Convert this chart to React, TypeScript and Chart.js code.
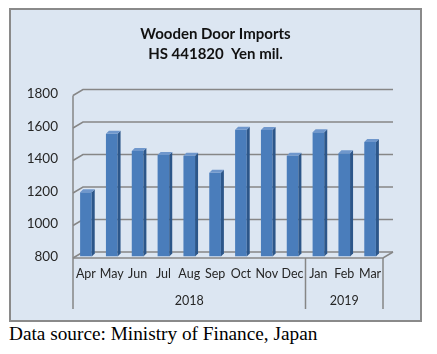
import React, { useEffect, useRef } from "react";
import { Chart, registerables } from "chart.js";

Chart.register(...registerables);

const titleLines = ["Wooden Door Imports", "HS 441820  Yen mil."];
const months = ["Apr", "May", "Jun", "Jul", "Aug", "Sep", "Oct", "Nov", "Dec", "Jan", "Feb", "Mar"];
const imports = [1195, 1555, 1450, 1425, 1420, 1315, 1580, 1578, 1420, 1565, 1435, 1505];
const yearLabels = ["2018", "2019"];
const yearSpans = [9, 3];
const yMin = 800;
const yMax = 1800;
const yStep = 200;
const sourceNote = "Data source: Ministry of Finance, Japan";

const DX = 10; // back wall depth offset x
const DY = 6; // back wall depth offset y
const FRONT = 1.5; // front plane below bar plane
const BD = 3; // bar depth
const AXIS_BOTTOM = 299;
const YEAR_Y = 291;
const LINE = "#868686";
const FONT = "Lato, 'Open Sans', sans-serif";

const depthPlugin = {
  id: "depth3d",
  beforeDatasetsDraw(chart: any) {
    const { ctx, chartArea, scales } = chart;
    const y = scales.y;
    ctx.save();
    ctx.strokeStyle = LINE;
    ctx.lineWidth = 1.5;
    for (let v = yMin; v <= yMax; v += yStep) {
      const yf = y.getPixelForValue(v) + FRONT;
      const yb = yf - DY;
      ctx.beginPath();
      ctx.moveTo(chartArea.left, yf);
      ctx.lineTo(chartArea.left + DX, yb);
      ctx.lineTo(chartArea.right + DX, yb);
      ctx.stroke();
    }
    const y0 = y.getPixelForValue(yMin) + FRONT;
    ctx.beginPath();
    ctx.moveTo(chartArea.left, y0);
    ctx.lineTo(chartArea.right, y0);
    ctx.lineTo(chartArea.right + DX, y0 - DY);
    ctx.stroke();
    ctx.restore();
  },
  afterDatasetsDraw(chart: any) {
    const { ctx, scales } = chart;
    const meta = chart.getDatasetMeta(0);
    const floor = scales.y.getPixelForValue(yMin);
    ctx.save();
    meta.data.forEach((bar: any) => {
      const { x, y, base, width } = bar.getProps(["x", "y", "base", "width"], true);
      const b = Math.min(base, floor);
      const l = x - width / 2;
      const r = x + width / 2;
      ctx.fillStyle = "#2c5689";
      ctx.beginPath();
      ctx.moveTo(r, y);
      ctx.lineTo(r + BD, y - BD);
      ctx.lineTo(r + BD, b - BD);
      ctx.lineTo(r, b);
      ctx.closePath();
      ctx.fill();
      ctx.fillStyle = "#6f97cc";
      ctx.beginPath();
      ctx.moveTo(l, y);
      ctx.lineTo(l + BD, y - BD);
      ctx.lineTo(r + BD, y - BD);
      ctx.lineTo(r, y);
      ctx.closePath();
      ctx.fill();
    });
    ctx.restore();
  },
  afterDraw(chart: any) {
    const { ctx, chartArea, scales } = chart;
    const x = scales.x;
    const y = scales.y;
    const y0 = y.getPixelForValue(yMin) + FRONT;
    const yTop = y.getPixelForValue(yMax) + FRONT;
    ctx.save();
    ctx.strokeStyle = LINE;
    ctx.lineWidth = 1.5;
    ctx.beginPath();
    ctx.moveTo(chartArea.left, yTop);
    ctx.lineTo(chartArea.left, AXIS_BOTTOM);
    ctx.stroke();
    ctx.fillStyle = "#262626";
    ctx.font = "12.5px " + FONT;
    ctx.textAlign = "center";
    ctx.textBaseline = "middle";
    let start = 0;
    let startPx = chartArea.left;
    yearLabels.forEach((lab, i) => {
      const end = start + yearSpans[i];
      const endPx =
        end >= months.length
          ? chartArea.right
          : (x.getPixelForValue(end - 1) + x.getPixelForValue(end)) / 2;
      ctx.beginPath();
      ctx.moveTo(endPx, y0);
      ctx.lineTo(endPx, AXIS_BOTTOM);
      ctx.stroke();
      ctx.fillText(lab, (startPx + endPx) / 2, YEAR_Y);
      start = end;
      startPx = endPx;
    });
    ctx.restore();
  },
};

export default function App() {
  const ref = useRef<HTMLCanvasElement | null>(null);

  useEffect(() => {
    if (!ref.current) return;
    const chart = new Chart(ref.current, {
      type: "bar",
      data: {
        labels: months,
        datasets: [
          {
            data: imports,
            base: yMin,
            backgroundColor: "#4a7dbb",
            borderWidth: 0,
            barPercentage: 0.45,
            categoryPercentage: 1,
          },
        ],
      },
      options: {
        animation: false,
        responsive: false,
        maintainAspectRatio: false,
        layout: { padding: { left: 0, right: 0, top: 0, bottom: 0 } },
        plugins: {
          legend: { display: false },
          tooltip: { enabled: false },
          title: {
            display: true,
            text: titleLines,
            color: "#111",
            font: { family: FONT, size: 15, weight: "bold", lineHeight: 20 / 15 },
            padding: { top: 14, bottom: 30 },
          },
        },
        scales: {
          x: {
            grid: { display: false, drawTicks: false },
            border: { display: false },
            ticks: {
              color: "#262626",
              font: { family: FONT, size: 12.5 },
              maxRotation: 0,
              minRotation: 0,
              autoSkip: false,
              padding: 10,
            },
            afterFit: (s: any) => {
              s.height = 63.5;
            },
          },
          y: {
            min: yMin,
            max: yMax,
            grid: { display: false, drawTicks: false },
            border: { display: false },
            ticks: {
              stepSize: yStep,
              color: "#262626",
              font: { family: FONT, size: 13.5 },
              padding: 15,
              callback: (v: any) => String(v),
            },
            afterFit: (s: any) => {
              s.width = 62;
            },
          },
          yRightSpace: {
            type: "linear",
            position: "right",
            display: true,
            grid: { display: false, drawTicks: false },
            border: { display: false },
            ticks: { display: false },
            afterFit: (s: any) => {
              s.width = 37;
            },
          },
        },
      },
      plugins: [depthPlugin],
    });
    return () => chart.destroy();
  }, []);

  return (
    <div>
      <div
        style={{
          marginLeft: 1,
          width: 413,
          height: 314,
          boxSizing: "border-box",
          border: "2px solid #8a8a8a",
          background: "#dce6f2",
        }}
      >
        <canvas ref={ref} width={409} height={310} style={{ display: "block" }} />
      </div>
      <div
        style={{
          fontFamily: "'Liberation Serif', 'Times New Roman', serif",
          fontSize: 19.3,
          lineHeight: "24px",
          color: "#000",
          marginLeft: 1,
        }}
      >
        {sourceNote}
      </div>
    </div>
  );
}
